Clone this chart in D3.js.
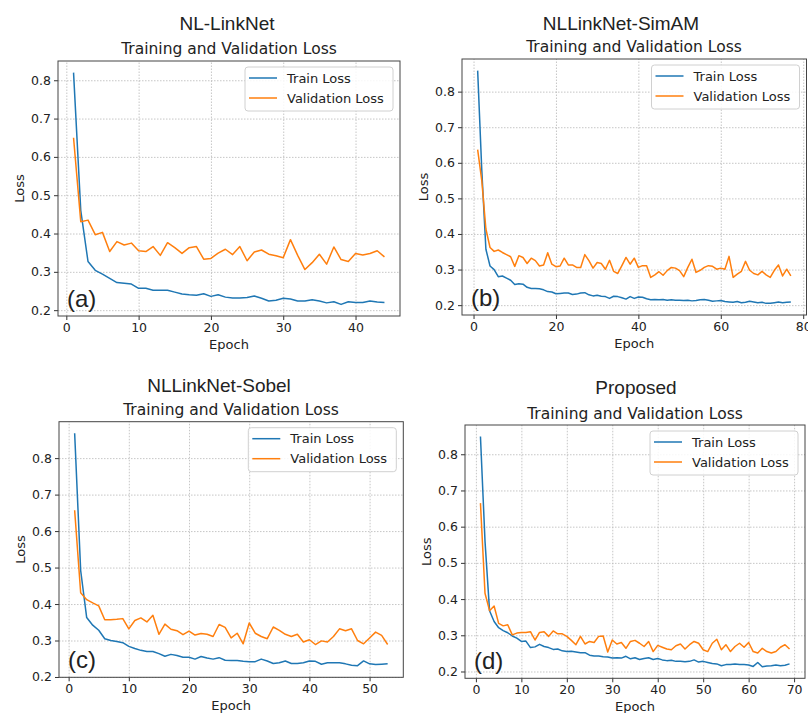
<!DOCTYPE html>
<html>
<head>
<meta charset="utf-8">
<script src="https://cdn.jsdelivr.net/npm/d3@7"></script>
<style>
  body { margin: 0; background: #fff; }
  svg { display: block; }
  text { fill: #222; }
</style>
</head>
<body>
<svg id="chart" width="808" height="713"></svg>
<script>
// values
const trainA = [0.82, 0.46, 0.327, 0.304, 0.294, 0.283, 0.272, 0.270, 0.268, 0.257,
  0.257, 0.252, 0.252, 0.252, 0.247, 0.242, 0.240, 0.239, 0.243, 0.236,
  0.240, 0.234, 0.232, 0.232, 0.233, 0.237, 0.231, 0.224, 0.226, 0.231,
  0.229, 0.224, 0.224, 0.227, 0.224, 0.219, 0.222, 0.215, 0.222, 0.220,
  0.220, 0.224, 0.221, 0.220];
const valA = [0.65, 0.431, 0.435, 0.397, 0.403, 0.353, 0.379, 0.370, 0.375, 0.355,
  0.353, 0.366, 0.343, 0.376, 0.363, 0.348, 0.363, 0.366, 0.333, 0.335,
  0.349, 0.359, 0.345, 0.366, 0.329, 0.352, 0.357, 0.346, 0.342, 0.337,
  0.384, 0.343, 0.306, 0.324, 0.346, 0.320, 0.365, 0.332, 0.327, 0.348,
  0.344, 0.348, 0.355, 0.339];

const trainB = [0.859, 0.58, 0.357, 0.310, 0.300, 0.280, 0.282, 0.276, 0.270, 0.258,
  0.260, 0.259, 0.250, 0.247, 0.247, 0.246, 0.243, 0.238, 0.237, 0.232,
  0.233, 0.234, 0.234, 0.230, 0.231, 0.234, 0.235, 0.229, 0.226, 0.228,
  0.225, 0.224, 0.219, 0.225, 0.224, 0.221, 0.217, 0.224, 0.219, 0.223,
  0.222, 0.218, 0.215, 0.216, 0.215, 0.216, 0.214, 0.215, 0.214, 0.214,
  0.213, 0.214, 0.212, 0.213, 0.215, 0.216, 0.214, 0.211, 0.212, 0.213,
  0.210, 0.209, 0.208, 0.210, 0.207, 0.208, 0.211, 0.209, 0.207, 0.208,
  0.205, 0.205, 0.207, 0.209, 0.207, 0.208, 0.209];
const valB = [0.637, 0.55, 0.414, 0.362, 0.351, 0.355, 0.348, 0.342, 0.336, 0.309,
  0.339, 0.334, 0.317, 0.332, 0.325, 0.310, 0.313, 0.347, 0.315, 0.308,
  0.310, 0.332, 0.313, 0.313, 0.306, 0.306, 0.342, 0.325, 0.304, 0.320,
  0.317, 0.301, 0.326, 0.295, 0.289, 0.311, 0.334, 0.315, 0.332, 0.306,
  0.311, 0.311, 0.278, 0.285, 0.294, 0.284, 0.297, 0.306, 0.304, 0.297,
  0.280, 0.306, 0.329, 0.292, 0.298, 0.306, 0.311, 0.309, 0.301, 0.304,
  0.301, 0.337, 0.278, 0.287, 0.295, 0.323, 0.298, 0.289, 0.285, 0.295,
  0.285, 0.278, 0.298, 0.313, 0.282, 0.301, 0.282];

const trainC = [0.868, 0.492, 0.363, 0.342, 0.328, 0.305, 0.300, 0.297, 0.294, 0.284,
  0.278, 0.273, 0.270, 0.270, 0.264, 0.257, 0.262, 0.259, 0.254, 0.254,
  0.249, 0.256, 0.252, 0.249, 0.253, 0.246, 0.245, 0.245, 0.243, 0.242,
  0.242, 0.249, 0.244, 0.237, 0.239, 0.244, 0.237, 0.237, 0.239, 0.244,
  0.243, 0.235, 0.239, 0.239, 0.239, 0.236, 0.232, 0.231, 0.244, 0.236,
  0.234, 0.235, 0.236];
const valC = [0.657, 0.431, 0.412, 0.403, 0.395, 0.357, 0.357, 0.358, 0.360, 0.332,
  0.355, 0.362, 0.351, 0.369, 0.317, 0.345, 0.331, 0.327, 0.316, 0.326,
  0.315, 0.319, 0.317, 0.311, 0.344, 0.336, 0.307, 0.320, 0.291, 0.348,
  0.320, 0.311, 0.305, 0.337, 0.328, 0.317, 0.311, 0.317, 0.296, 0.302,
  0.289, 0.299, 0.296, 0.311, 0.332, 0.327, 0.332, 0.300, 0.291, 0.307,
  0.323, 0.314, 0.289];

const trainD = [0.849, 0.56, 0.368, 0.338, 0.321, 0.313, 0.307, 0.298, 0.292, 0.283,
  0.284, 0.266, 0.268, 0.275, 0.269, 0.266, 0.261, 0.262, 0.257, 0.255,
  0.256, 0.254, 0.252, 0.252, 0.245, 0.243, 0.243, 0.241, 0.240, 0.237,
  0.238, 0.237, 0.242, 0.235, 0.238, 0.233, 0.236, 0.238, 0.233, 0.236,
  0.232, 0.230, 0.231, 0.228, 0.228, 0.227, 0.228, 0.232, 0.226, 0.228,
  0.225, 0.222, 0.221, 0.216, 0.219, 0.219, 0.221, 0.219, 0.219, 0.218,
  0.214, 0.225, 0.213, 0.215, 0.216, 0.218, 0.216, 0.217, 0.221];
const valD = [0.665, 0.416, 0.368, 0.381, 0.333, 0.326, 0.329, 0.301, 0.306, 0.308,
  0.308, 0.310, 0.287, 0.308, 0.310, 0.297, 0.312, 0.304, 0.304, 0.297,
  0.286, 0.274, 0.297, 0.276, 0.283, 0.280, 0.297, 0.298, 0.254, 0.287,
  0.276, 0.280, 0.264, 0.283, 0.286, 0.278, 0.269, 0.283, 0.255, 0.272,
  0.267, 0.262, 0.260, 0.271, 0.276, 0.262, 0.274, 0.283, 0.278, 0.260,
  0.255, 0.278, 0.289, 0.260, 0.274, 0.255, 0.269, 0.278, 0.267, 0.280,
  0.255, 0.251, 0.264, 0.255, 0.251, 0.255, 0.267, 0.274, 0.262];

const modelNames = ["NL-LinkNet", "NLLinkNet-SimAM", "NLLinkNet-Sobel", "Proposed"];
const panelTags = ["(a)", "(b)", "(c)", "(d)"];
const seriesNames = ["Train Loss", "Validation Loss"];
const yTicks = [0.2, 0.3, 0.4, 0.5, 0.6, 0.7, 0.8];
const xTicksA = [0, 10, 20, 30, 40];
const xTicksB = [0, 20, 40, 60, 80];
const xTicksC = [0, 10, 20, 30, 40, 50];
const xTicksD = [0, 10, 20, 30, 40, 50, 60, 70];

const colors = ["#1f77b4", "#ff7f0e"];

// layout of the four axes boxes (pixels)
const panels = [
  { train: trainA, val: valA, xTicks: xTicksA, left: 58, right: 400, top: 61, bottom: 316,
    t1x: 227, t1y: 23, t2x: 229, t2y: 49 },
  { train: trainB, val: valB, xTicks: xTicksB, left: 462, right: 806.5, top: 59, bottom: 315,
    t1x: 621, t1y: 23, t2x: 634, t2y: 47 },
  { train: trainC, val: valC, xTicks: xTicksC, left: 59, right: 403.3, top: 421.7, bottom: 677.3,
    t1x: 219, t1y: 385, t2x: 231, t2y: 409.5 },
  { train: trainD, val: valD, xTicks: xTicksD, left: 465, right: 805, top: 425, bottom: 678.3,
    t1x: 636, t1y: 387, t2x: 635, t2y: 413.5 }
];

const svg = d3.select("#chart");
const mono = "'DejaVu Sans', sans-serif";
const arial = "'Liberation Sans', Arial, sans-serif";

panels.forEach((p, k) => {
  const n = p.train.length;
  const all = p.train.concat(p.val);
  const [lo, hi] = d3.extent(all);
  const padY = (hi - lo) * 0.05, padX = (n - 1) * 0.05;

  const x = d3.scaleLinear().domain([1 - padX, n + padX]).range([p.left, p.right]);
  const y = d3.scaleLinear().domain([lo - padY, hi + padY]).range([p.bottom, p.top]);

  const g = svg.append("g");
  const w = p.right - p.left, h = p.bottom - p.top;

  // grid
  g.append("g")
    .attr("transform", `translate(0,${p.bottom})`)
    .call(d3.axisBottom(x).tickValues(p.xTicks.filter(v => v >= x.domain()[0] && v <= x.domain()[1]))
      .tickSize(-h).tickFormat(""))
    .call(a => a.select(".domain").remove())
    .selectAll("line").attr("stroke", "#b8b8b8").attr("stroke-dasharray", "1.5,1.5").attr("stroke-width", 0.8);
  g.append("g")
    .attr("transform", `translate(${p.left},0)`)
    .call(d3.axisLeft(y).tickValues(yTicks).tickSize(-w).tickFormat(""))
    .call(a => a.select(".domain").remove())
    .selectAll("line").attr("stroke", "#b8b8b8").attr("stroke-dasharray", "1.5,1.5").attr("stroke-width", 0.8);

  // lines
  const line = d3.line().x((d, i) => x(i + 1)).y(d => y(d));
  [p.train, p.val].forEach((s, j) => {
    g.append("path").datum(s)
      .attr("fill", "none").attr("stroke", colors[j]).attr("stroke-width", 1.5)
      .attr("stroke-linejoin", "round").attr("d", line);
  });

  // axes
  const xa = g.append("g").attr("transform", `translate(0,${p.bottom})`)
    .call(d3.axisBottom(x).tickValues(p.xTicks).tickSize(4).tickPadding(3).tickFormat(d3.format("d")));
  const ya = g.append("g").attr("transform", `translate(${p.left},0)`)
    .call(d3.axisLeft(y).tickValues(yTicks).tickSize(4).tickPadding(3).tickFormat(d3.format(".1f")));
  [xa, ya].forEach(a => {
    a.select(".domain").remove();
    a.selectAll("line").attr("stroke", "#333");
    a.selectAll("text").attr("font-family", mono).attr("font-size", 12.5).attr("fill", "#222");
  });

  // frame
  g.append("rect").attr("x", p.left).attr("y", p.top).attr("width", w).attr("height", h)
    .attr("fill", "none").attr("stroke", "#444").attr("stroke-width", 1);

  // labels
  g.append("text").attr("x", (p.left + p.right) / 2).attr("y", p.bottom + 33)
    .attr("text-anchor", "middle").attr("font-family", mono).attr("font-size", 13).text("Epoch");
  g.append("text").attr("transform", `translate(${p.left - 34},${(p.top + p.bottom) / 2}) rotate(-90)`)
    .attr("text-anchor", "middle").attr("font-family", mono).attr("font-size", 13).text("Loss");

  // titles
  g.append("text").attr("x", p.t1x).attr("y", p.t1y).attr("dy", "0.35em")
    .attr("text-anchor", "middle").attr("font-family", arial).attr("font-size", 19).attr("fill", "#111")
    .text(modelNames[k]);
  g.append("text").attr("x", p.t2x).attr("y", p.t2y).attr("dy", "0.35em")
    .attr("text-anchor", "middle").attr("font-family", mono).attr("font-size", 15.5)
    .text("Training and Validation Loss");

  // panel tag
  g.append("text").attr("x", p.left + 9).attr("y", p.bottom - 9)
    .attr("font-family", arial).attr("font-size", 24).attr("fill", "#111").text(panelTags[k]);

  // legend
  const lw = 148, lh = 44;
  const lx = p.right - 7 - lw, ly = p.top + 6;
  const leg = g.append("g").attr("transform", `translate(${lx},${ly})`);
  leg.append("rect").attr("width", lw).attr("height", lh).attr("rx", 3)
    .attr("fill", "#fff").attr("fill-opacity", 0.85).attr("stroke", "#d0d0d0");
  seriesNames.forEach((name, j) => {
    const yy = 11 + j * 20;
    leg.append("line").attr("x1", 4).attr("x2", 32).attr("y1", yy).attr("y2", yy)
      .attr("stroke", colors[j]).attr("stroke-width", 1.5);
    leg.append("text").attr("x", 42).attr("y", yy).attr("dy", "0.35em")
      .attr("font-family", mono).attr("font-size", 13).text(name);
  });
});
</script>
</body>
</html>
